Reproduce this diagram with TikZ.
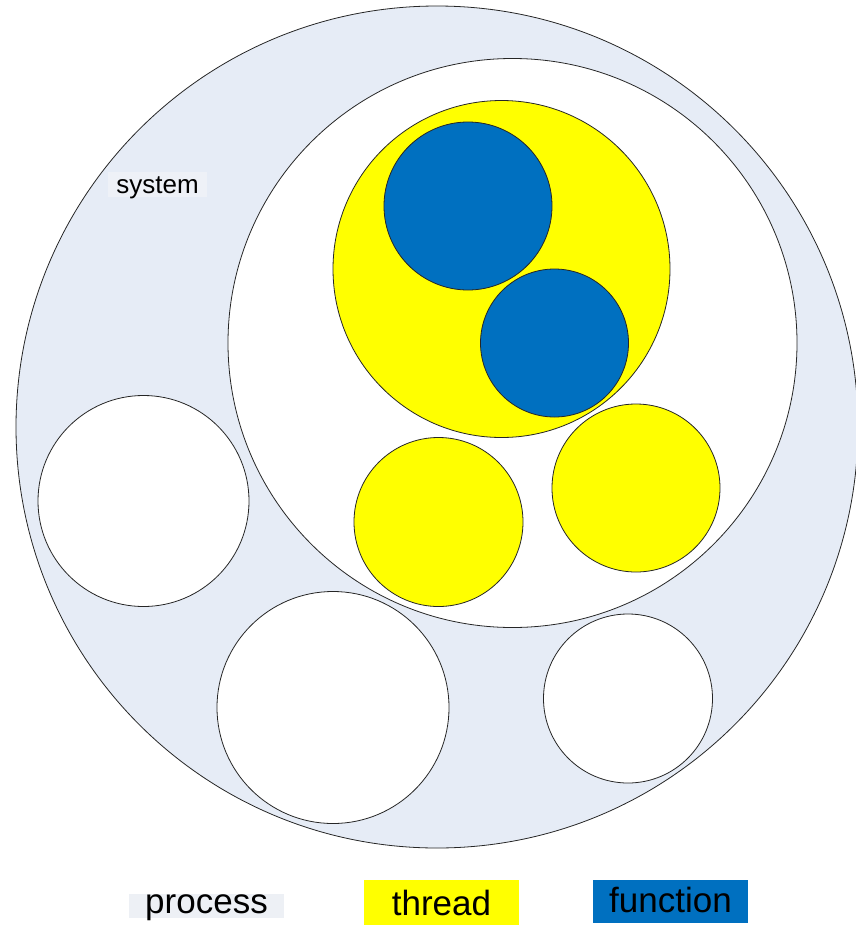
\documentclass[tikz,border=0pt]{standalone}
\usepackage{fontspec}
\setmainfont{Liberation Sans}
\usepackage{tikz}

\definecolor{ringgray}{HTML}{E6ECF6}
\definecolor{taggray}{HTML}{EEF1F7}
\definecolor{keygray}{HTML}{EDF0F5}
\definecolor{fnblue}{HTML}{0070C0}
\definecolor{thyellow}{HTML}{FFFF00}

\begin{document}
\begin{tikzpicture}[x=1pt, y=-1pt,
    disc/.style={circle, draw=black!85, line width=0.8pt, inner sep=0pt, minimum size=#1},
    keybox/.style={inner xsep=0pt, inner ysep=0pt, minimum width=155pt, font=\fontsize{35}{40}\selectfont}]
  \useasboundingbox (0,0) rectangle (856,927);

  % system and process rings
  \node[disc=842pt, fill=ringgray] (sys) at (437,427) {};
  \node[disc=569pt, fill=white] (proc) at (512.5,343) {};

  % threads and functions
  \node[disc=337pt, fill=thyellow] (thbig) at (501.5,269) {};
  \node[disc=168pt, fill=fnblue] (fnone) at (468,206) {};
  \node[disc=148pt, fill=fnblue] (fntwo) at (554.5,343) {};
  \node[disc=169pt, fill=thyellow] (thleft) at (438.5,522) {};
  \node[disc=168pt, fill=thyellow] (thright) at (636,488) {};

  % other processes
  \node[disc=211pt, fill=white] (procleft) at (143.5,501) {};
  \node[disc=232pt, fill=white] (procmid) at (333,707.5) {};
  \node[disc=169pt, fill=white] (procright) at (628,698.5) {};

  \node[fill=taggray, inner xsep=0pt, inner ysep=0pt, minimum width=99pt, text height=21pt, text depth=4pt, font=\fontsize{26}{30}\selectfont] (systag) at (157.5,184.5) {system};

  % legend
  \node[keybox, fill=keygray, text height=19pt, text depth=5pt] (prockey) at (206.5,906) {process};
  \node[keybox, fill=thyellow, text height=35pt, text depth=10pt] (thkey) at (441.5,902.5) {thread};
  \node[keybox, fill=fnblue, text height=32pt, text depth=11pt] (fnkey) at (670.5,901.5) {function};
\end{tikzpicture}
\end{document}
